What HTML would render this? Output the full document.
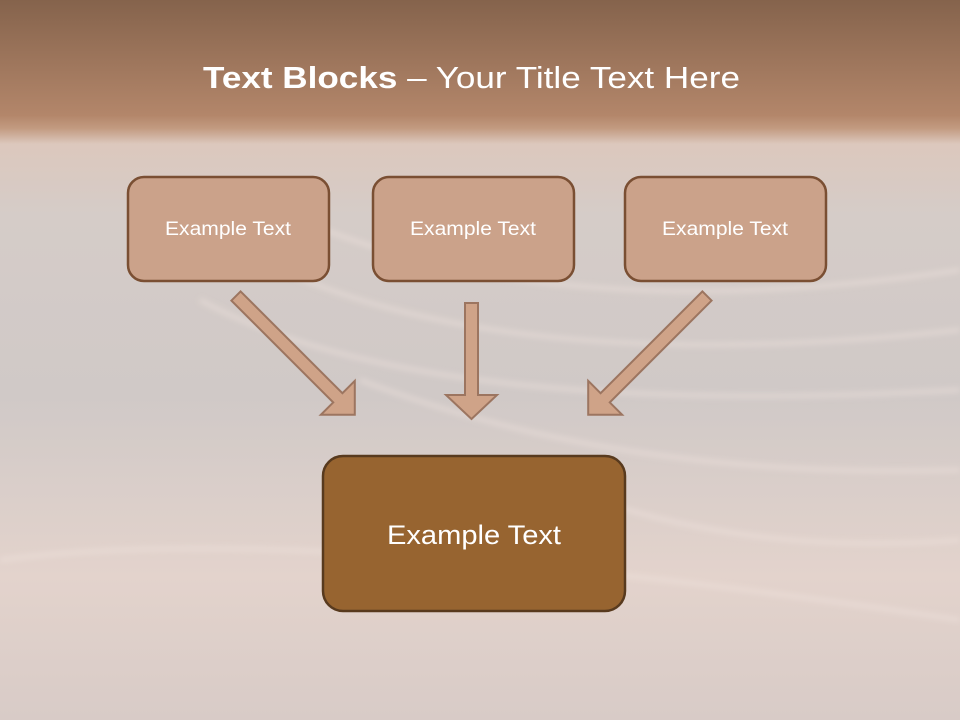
<!DOCTYPE html>
<html><head><meta charset="utf-8"><style>
html,body{margin:0;padding:0;width:960px;height:720px;overflow:hidden}
</style></head><body>
<svg width="960" height="720" viewBox="0 0 960 720" xmlns="http://www.w3.org/2000/svg">
<defs>
<linearGradient id="bg" x1="0" y1="0" x2="0" y2="1">
<stop offset="0" stop-color="#85634c"/>
<stop offset="0.16" stop-color="#b3866a"/>
<stop offset="0.178" stop-color="#c29a80"/>
<stop offset="0.2" stop-color="#dcc8bd"/>
<stop offset="0.3" stop-color="#d5ccc8"/>
<stop offset="0.55" stop-color="#d0c9c7"/>
<stop offset="0.8" stop-color="#e3d3cc"/>
<stop offset="1" stop-color="#d8cbc7"/>
</linearGradient>
<filter id="bl"><feGaussianBlur stdDeviation="3"/></filter>
</defs>
<rect width="960" height="720" fill="url(#bg)"/>
<g fill="none" stroke="#f2e6df" stroke-opacity="0.5" filter="url(#bl)" stroke-width="4">
<path d="M200 300 Q420 420 960 390"/>
<path d="M260 260 Q500 380 960 330"/>
<path d="M300 220 Q560 330 960 270"/>
<path d="M360 380 Q620 480 960 470"/>
<path d="M500 460 Q700 560 960 540"/>
<path d="M0 560 Q300 520 960 620"/>
</g>
<text x="203" y="88" font-family="Liberation Sans, sans-serif" font-size="31" fill="#fff" textLength="537" lengthAdjust="spacingAndGlyphs"><tspan font-weight="bold">Text Blocks</tspan> – Your Title Text Here</text>
<g fill="#cba28a" stroke="#7a4f33" stroke-width="2.5">
<rect x="128" y="177" width="201" height="104" rx="16"/>
<rect x="373" y="177" width="201" height="104" rx="16"/>
<rect x="625" y="177" width="201" height="104" rx="16"/>
</g>
<g font-family="Liberation Sans, sans-serif" font-size="19" fill="#fff">
<text x="165" y="235" textLength="126" lengthAdjust="spacingAndGlyphs">Example Text</text>
<text x="410" y="235" textLength="126" lengthAdjust="spacingAndGlyphs">Example Text</text>
<text x="662" y="235" textLength="126" lengthAdjust="spacingAndGlyphs">Example Text</text>
</g>
<g fill="#cfa388" stroke="#9c7560" stroke-width="2">
<polygon points="465,303 478,303 478,395 497,395 471.5,419 446,395 465,395"/>
<g transform="translate(236,296) rotate(45)">
<polygon points="0,-6.5 144,-6.5 144,-24 168,0 144,24 144,6.5 0,6.5"/>
</g>
<g transform="translate(707,296) rotate(135)">
<polygon points="0,-6.5 144,-6.5 144,-24 168,0 144,24 144,6.5 0,6.5"/>
</g>
</g>
<rect x="323" y="456" width="302" height="155" rx="20" fill="#976430" stroke="#583a1e" stroke-width="2.5"/>
<text x="387" y="544" font-family="Liberation Sans, sans-serif" font-size="27" fill="#fff" textLength="174" lengthAdjust="spacingAndGlyphs">Example Text</text>
</svg>
</body></html>
